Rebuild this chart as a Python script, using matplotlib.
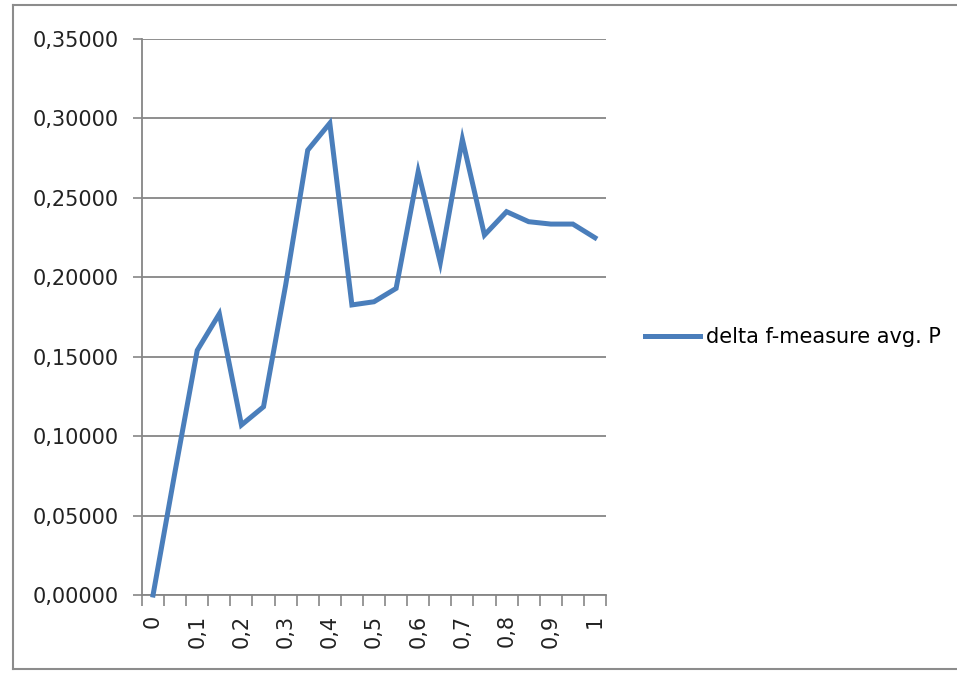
import numpy as np
import matplotlib
matplotlib.use("Agg")
import matplotlib.pyplot as plt
from matplotlib.lines import Line2D
from matplotlib.ticker import FuncFormatter

# categories 0 .. 1 step 0,05 (excel only shows every other label)
categories = ["0", "0,05", "0,1", "0,15", "0,2", "0,25", "0,3", "0,35", "0,4", "0,45", "0,5",
              "0,55", "0,6", "0,65", "0,7", "0,75", "0,8", "0,85", "0,9", "0,95", "1"]
delta_fm = [0.0, 0.078, 0.154, 0.177, 0.107, 0.1185, 0.195, 0.280, 0.297, 0.1826, 0.1846,
            0.193, 0.2665, 0.2092, 0.2868, 0.2266, 0.2413, 0.235, 0.2335, 0.2335, 0.2249]
series_name = "delta f-measure avg. P"
y_ticks = [0.0, 0.05, 0.10, 0.15, 0.20, 0.25, 0.30, 0.35]

blue = '#4A7EBB'
grey = '#868686'

fig = plt.figure(figsize=(9.57, 6.73), dpi=100)
ax = fig.add_axes([142/957, 1 - 595/673, (606 - 142)/957, (595 - 39)/673])

x = np.arange(len(categories))
line, = ax.plot(x, delta_fm, color=blue, lw=3.6, solid_joinstyle='miter', label=series_name,
                clip_on=False, zorder=3)

ax.set_xlim(-0.5, len(categories) - 0.5)
ax.set_ylim(0, 0.35)

ax.set_yticks(y_ticks)
ax.yaxis.set_major_formatter(FuncFormatter(lambda v, p: ("%.5f" % v).replace('.', ',')))
ax.yaxis.grid(True, color=grey, lw=1.3)
ax.set_axisbelow(True)

# tick marks between categories, labels on every other category
ax.set_xticks(np.arange(-0.5, len(categories), 1.0))
ax.set_xticklabels([])
ax.set_xticks(x[::2], minor=True)
ax.set_xticklabels(categories[::2], minor=True, rotation=90, va='top', ha='center')

ax.tick_params(axis='y', length=6.5, width=1.2, color=grey, pad=10.5, labelsize=15,
               labelcolor='#222222')
ax.tick_params(axis='x', which='major', length=8, width=1.2, color=grey)
ax.tick_params(axis='x', which='minor', length=0, pad=14, labelsize=15, labelcolor='#222222')

for s in ['top', 'right']:
    ax.spines[s].set_visible(False)
for s in ['left', 'bottom']:
    ax.spines[s].set_color(grey)
    ax.spines[s].set_linewidth(1.3)

ax.legend(handles=[line], loc='center left', bbox_to_anchor=(645/957, 1 - 337/673),
          bbox_transform=fig.transFigure, frameon=False, borderpad=0, borderaxespad=0,
          handlelength=2.65, handletextpad=0.3, fontsize=15)

# chart area border
fig.add_artist(Line2D([13/957, 13/957], [1 - 669/673, 1 - 5/673], color='#8c8c8c', lw=1.5))
fig.add_artist(Line2D([13/957, 1], [1 - 5/673, 1 - 5/673], color='#8c8c8c', lw=1.5))
fig.add_artist(Line2D([13/957, 1], [1 - 669/673, 1 - 669/673], color='#8c8c8c', lw=1.5))

fig.savefig("out.png", dpi=100)
